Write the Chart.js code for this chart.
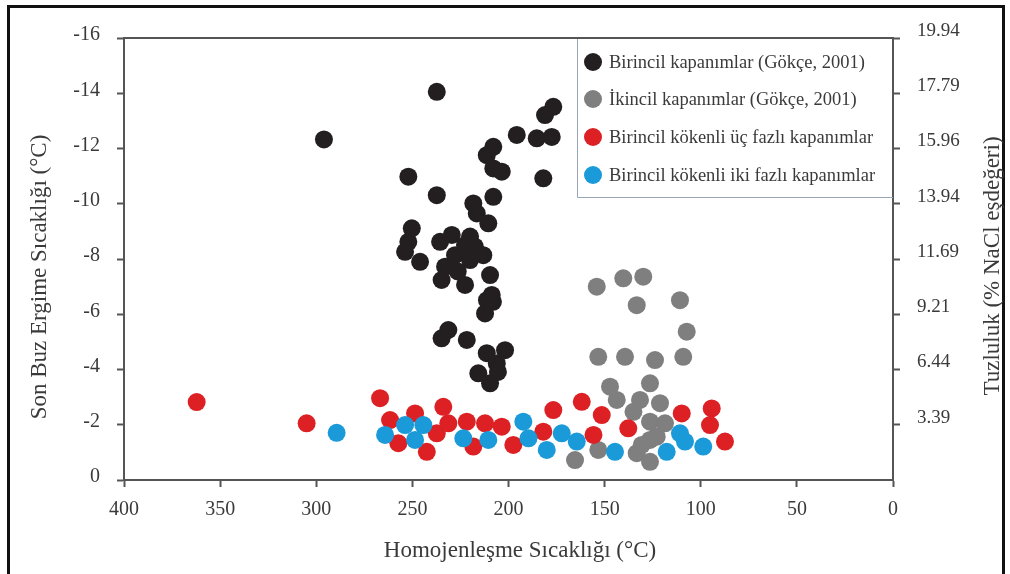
<!DOCTYPE html>
<html>
<head>
<meta charset="utf-8">
<script src="https://cdn.jsdelivr.net/npm/chart.js@4/dist/chart.umd.min.js"></script>
<style>
html,body{margin:0;padding:0;background:#fff;}
#wrap{position:relative;width:1010px;height:574px;}
</style>
</head>
<body>
<div id="wrap"><canvas id="c"></canvas></div>
<script>
/* ── Data: Th (°C) / Tm ice (°C) ─────────────────────────── */
const BIRINCIL_TH = [296,237.3,176.7,181,195.7,185.3,177.5,207.9,211.3,207.9,203.5,252.1,181.9,237.3,207.9,218.3,216.5,210.5,250.3,
  252.1,253.8,246,235.6,229.5,220,227.8,233,234.8,222.6,213.1,209.6,208.7,212.2,220,231.3,234.8,221.7,201.8,211.3,206.1,215.7,209.6,208.1,222.6,
  205.5,211.2,226.4,217.5];
const BIRINCIL_TM = [-12.33,-14.05,-13.51,-13.21,-12.49,-12.37,-12.42,-12.06,-11.76,-11.28,-11.16,-10.98,-10.92,-10.31,-10.25,-10.01,-9.65,-9.29,-9.11,
  -8.62,-8.26,-7.9,-8.62,-8.87,-8.81,-8.14,-7.72,-7.24,-7.06,-8.14,-7.42,-6.7,-6.03,-7.96,-5.43,-5.13,-5.07,-4.7,-4.59,-4.22,-3.86,-3.5,-6.45,-8.5,
  -3.91,-6.51,-7.55,-8.45];

const IKINCIL_TH = [154.1,140.3,129.9,133.3,110.8,107.3,153.3,139.4,123.8,109.1,147.2,126.4,143.7,131.6,121.2,135,126.4,118.6,122.9,133.3,126.4,153.3,165.4,126.4,130.7];
const IKINCIL_TM = [-7,-7.3,-7.36,-6.33,-6.51,-5.37,-4.46,-4.46,-4.34,-4.46,-3.38,-3.5,-2.9,-2.9,-2.78,-2.47,-2.11,-2.05,-1.57,-0.97,-0.66,-1.09,-0.72,-1.45,-1.27];

const UCFAZ_TH = [362.2,305,266.8,261.6,248.6,257.3,242.5,233.9,237.3,231.3,221.7,212.2,203.5,218.3,197.5,176.7,181.9,161.9,151.5,155.8,137.7,109.9,94.3,95.2,87.4];
const UCFAZ_TM = [-2.82,-2.05,-2.96,-2.17,-2.41,-1.33,-1.02,-2.65,-1.69,-2.05,-2.11,-2.05,-1.93,-1.21,-1.27,-2.53,-1.75,-2.83,-2.35,-1.63,-1.87,-2.41,-2.59,-1.99,-1.39];

const IKIFAZ_TH = [289.4,264.2,253.8,244.3,248.6,223.5,210.5,192.3,189.6,180.1,172.3,164.5,144.6,117.7,110.8,108.2,98.7];
const IKIFAZ_TM = [-1.71,-1.63,-1.99,-1.99,-1.45,-1.51,-1.45,-2.11,-1.51,-1.09,-1.69,-1.39,-1.02,-1.02,-1.69,-1.39,-1.21];

// right axis: salinity (% NaCl eq.) for Tm = 0, -2, ... -16
const SALINITY = ["", "3.39", "6.44", "9.21", "11.69", "13.94", "15.96", "17.79", "19.94"];

const SERIES_LABELS = [
  "Birincil kapanımlar (Gökçe, 2001)",
  "İkincil kapanımlar (Gökçe, 2001)",
  "Birincil kökenli üç fazlı kapanımlar",
  "Birincil kökenli iki fazlı kapanımlar",
];
const SERIES_COLORS = ["#231f20", "#7f7f7f", "#dc2024", "#1a9ad8"];

const SERIF = "'Liberation Serif','Times New Roman',serif";
const TXT = "#3a3a3a";
const AXIS = "#555";

const pts = (xs, ys) => xs.map((x, i) => ({ x, y: ys[i] }));

const decor = {
  id: "decor",
  beforeDraw(chart) {
    const { ctx } = chart;
    ctx.save();
    ctx.strokeStyle = "#111"; ctx.lineWidth = 3;
    ctx.strokeRect(8.5, 6.5, 995, 620);
    ctx.restore();
  },
  afterDraw(chart) {
    const { ctx, chartArea: a } = chart;
    ctx.save();
    // top edge of the plot box
    ctx.strokeStyle = AXIS; ctx.lineWidth = 2;
    ctx.beginPath(); ctx.moveTo(a.left, a.top); ctx.lineTo(a.right, a.top); ctx.stroke();

    // legend box
    ctx.fillStyle = "#fff";
    ctx.fillRect(577, a.top + 1, a.right - 578, 197 - a.top - 1);
    ctx.strokeStyle = "#9aa6b8"; ctx.lineWidth = 1;
    ctx.beginPath();
    ctx.moveTo(577.5, a.top + 1); ctx.lineTo(577.5, 197.5); ctx.lineTo(a.right, 197.5);
    ctx.stroke();
    const rowsY = [62, 99, 137, 175];
    ctx.font = "18.5px " + SERIF; ctx.textBaseline = "middle"; ctx.textAlign = "left";
    chart.data.datasets.forEach((ds, i) => {
      ctx.fillStyle = ds.backgroundColor;
      ctx.beginPath(); ctx.arc(593, rowsY[i], 9, 0, Math.PI * 2); ctx.fill();
      ctx.fillStyle = TXT;
      ctx.fillText(ds.label, 609, rowsY[i] + 1);
    });

    // axis titles
    ctx.font = "23px " + SERIF; ctx.fillStyle = TXT; ctx.textAlign = "center"; ctx.textBaseline = "middle";
    ctx.fillText("Homojenleşme Sıcaklığı (°C)", 520, 551);
    ctx.save(); ctx.translate(40, 277); ctx.rotate(-Math.PI / 2);
    ctx.fillText("Son Buz Ergime Sıcaklığı (°C)", 0, 0); ctx.restore();
    ctx.save(); ctx.translate(993, 266); ctx.rotate(-Math.PI / 2);
    ctx.fillText("Tuzluluk (% NaCl eşdeğeri)", 0, 0); ctx.restore();
    ctx.restore();
  },
};

const tickFont = { family: SERIF, size: 20 };
const gridCfg = { display: true, drawOnChartArea: false, drawTicks: true, tickLength: 7, tickColor: AXIS, tickWidth: 2 };
const borderCfg = { display: true, color: AXIS, width: 2 };

new Chart(document.getElementById("c"), {
  type: "scatter",
  data: {
    datasets: [
      { label: SERIES_LABELS[0], data: pts(BIRINCIL_TH, BIRINCIL_TM), backgroundColor: SERIES_COLORS[0], order: 4 },
      { label: SERIES_LABELS[1], data: pts(IKINCIL_TH, IKINCIL_TM), backgroundColor: SERIES_COLORS[1], order: 3 },
      { label: SERIES_LABELS[2], data: pts(UCFAZ_TH, UCFAZ_TM), backgroundColor: SERIES_COLORS[2], order: 2 },
      { label: SERIES_LABELS[3], data: pts(IKIFAZ_TH, IKIFAZ_TM), backgroundColor: SERIES_COLORS[3], order: 1 },
    ].map(d => ({ ...d, pointRadius: 9, pointBorderWidth: 0, pointHoverRadius: 9 })),
  },
  options: {
    responsive: true,
    maintainAspectRatio: false,
    animation: false,
    layout: { padding: { top: 38, left: 0, right: 0, bottom: 0 } },
    plugins: { legend: { display: false }, tooltip: { enabled: false } },
    scales: {
      x: {
        type: "linear", min: 0, max: 400, reverse: true,
        ticks: { stepSize: 50, font: tickFont, color: TXT, padding: 11, maxRotation: 0 },
        grid: gridCfg, border: borderCfg,
        afterFit: s => { s.height = 94; },
      },
      y: {
        type: "linear", position: "left", min: -16, max: 0, reverse: true,
        ticks: { stepSize: 2, font: tickFont, color: TXT, padding: 17, labelOffset: -3 },
        grid: gridCfg, border: borderCfg,
        afterFit: s => { s.width = 124; },
      },
      y2: {
        type: "linear", position: "right", min: -16, max: 0, reverse: true,
        ticks: {
          stepSize: 2, font: { family: SERIF, size: 19 }, color: TXT, padding: 17, labelOffset: -7,
          callback: v => (v === 0 ? null : SALINITY[Math.round(-v / 2)]),
        },
        grid: gridCfg, border: borderCfg,
        afterFit: s => { s.width = 117; },
      },
    },
  },
  plugins: [decor],
});
</script>
</body>
</html>
